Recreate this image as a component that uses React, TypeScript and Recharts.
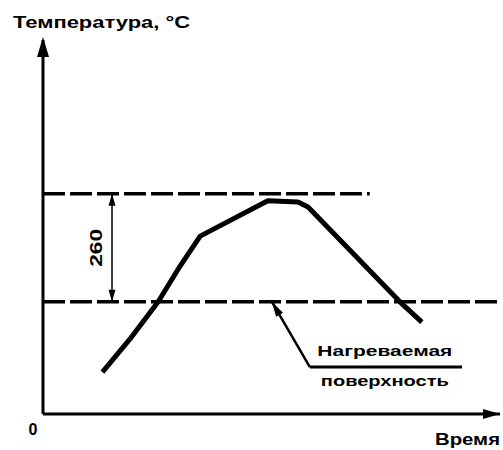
import React from 'react';
import {
  ComposedChart,
  Line,
  XAxis,
  YAxis,
  ReferenceLine,
  ReferenceDot,
} from 'recharts';

// Heating curve of the surface (time in arbitrary units, temperature in °C)
const time = [13, 19, 25.2, 30, 34.4, 49.2, 55.8, 58, 78.1, 82.9];
const temperature = [101, 180, 270, 356, 428, 513, 510, 498, 270, 221];

// Levels: heated surface and +260 above it
const surfaceTemp = 270;
const deltaTemp = 260;
const upperLimit = surfaceTemp + deltaTemp;

const timeDomain = [0, 100];
const tempDomain = [0, 900];
const originLabel = '0';

// dimension line, leader line and note positions (data units)
const dimX = 15.1;
const upperLineEnd = 71.5;
const leaderTip = { t: 50.1, temp: surfaceTemp };
const leaderBend = { t: 58.4, temp: 113 };
const leaderEnd = 91.7;
const noteX = 74.8;
const noteLines = ['Нагреваемая', 'поверхность'];
const noteY = [140, 67];

const data = time.map((t, i) => ({ t, temp: temperature[i] }));

const FONT = '"Liberation Sans", Arial, sans-serif';
const INK = '#000';

const textShape =
  (label: string, dx: number, dy: number, len?: number, size = 16, anchor = 'start', rotate = 0) =>
  (p: any) => (
    <text
      x={p.cx + dx}
      y={p.cy + dy}
      fontFamily={FONT}
      fontWeight="bold"
      fontSize={size}
      fill={INK}
      textAnchor={anchor}
      textLength={len}
      lengthAdjust={len ? 'spacingAndGlyphs' : undefined}
      transform={rotate ? `rotate(${rotate} ${p.cx + dx} ${p.cy + dy})` : undefined}
    >
      {label}
    </text>
  );

// arrowhead pointing along +x, rotated by angle (deg), tip at the point
const arrowShape =
  (angle: number, len: number, half: number, shift = 0) =>
  (p: any) => (
    <path
      d={`M0,0 L${-len},${-half} L${-len},${half} Z`}
      fill={INK}
      transform={`translate(${p.cx},${p.cy}) rotate(${angle}) translate(${shift},0)`}
    />
  );

export default function App() {
  return (
    <div style={{ position: 'absolute', left: 0, top: 0, width: 503, height: 450, background: '#fff' }}>
      <ComposedChart width={503} height={450} data={data} margin={{ top: 40, right: 3, bottom: 36, left: 43 }}>
        <XAxis type="number" dataKey="t" domain={timeDomain} hide />
        <YAxis type="number" domain={tempDomain} hide />

        {/* axes */}
        <ReferenceLine
          segment={[{ x: 0, y: 0 }, { x: timeDomain[1], y: 0 }]}
          stroke={INK}
          strokeWidth={3}
        />
        <ReferenceLine
          segment={[{ x: 0, y: 0 }, { x: 0, y: tempDomain[1] }]}
          stroke={INK}
          strokeWidth={3}
        />

        <ReferenceLine
          segment={[{ x: 0, y: upperLimit }, { x: upperLineEnd, y: upperLimit }]}
          stroke={INK}
          strokeWidth={3.5}
          strokeDasharray="22 5"
        />
        <ReferenceLine
          segment={[{ x: 0, y: surfaceTemp }, { x: timeDomain[1], y: surfaceTemp }]}
          stroke={INK}
          strokeWidth={3.5}
          strokeDasharray="22 5"
        />

        {/* dimension 260 */}
        <ReferenceLine segment={[{ x: dimX, y: surfaceTemp }, { x: dimX, y: upperLimit }]} stroke={INK} strokeWidth={1.5} />
        <ReferenceDot x={dimX} y={upperLimit} shape={arrowShape(-90, 12, 3.5)} />
        <ReferenceDot x={dimX} y={surfaceTemp} shape={arrowShape(90, 12, 3.5)} />
        <ReferenceDot x={dimX} y={(surfaceTemp + upperLimit) / 2} shape={textShape(String(deltaTemp), -10, 0, 38, 17, 'middle', -90)} />

        {/* leader to heated surface */}
        <ReferenceLine
          segment={[{ x: leaderTip.t, y: leaderTip.temp }, { x: leaderBend.t, y: leaderBend.temp }]}
          stroke={INK}
          strokeWidth={2.5}
        />
        <ReferenceLine
          segment={[{ x: leaderBend.t, y: leaderBend.temp }, { x: leaderEnd, y: leaderBend.temp }]}
          stroke={INK}
          strokeWidth={3}
        />
        <ReferenceDot x={leaderTip.t} y={leaderTip.temp} shape={arrowShape(-120.3, 15, 4)} />
        <ReferenceDot x={noteX} y={noteY[0]} shape={textShape(noteLines[0], 0, 0, 135, 15, 'middle')} />
        <ReferenceDot x={noteX} y={noteY[1]} shape={textShape(noteLines[1], 0, 0, 128, 15, 'middle')} />

        {/* axis arrows and titles */}
        <ReferenceDot x={0} y={tempDomain[1]} shape={arrowShape(-90, 20, 6, 3)} />
        <ReferenceDot x={timeDomain[1]} y={0} shape={arrowShape(0, 17, 5)} />
        <ReferenceDot x={0} y={0} shape={textShape(originLabel, -10, 21, undefined, 16, 'middle')} />
        <ReferenceDot x={0} y={tempDomain[1]} shape={textShape('Температура, °С', -30, -12, 177, 16)} />
        <ReferenceDot x={timeDomain[1]} y={0} shape={textShape('Время', -65, 31, 65, 16)} />

        <Line
          type="linear"
          dataKey="temp"
          stroke={INK}
          strokeWidth={5}
          strokeLinejoin="round"
          dot={false}
          activeDot={false}
          isAnimationActive={false}
        />
      </ComposedChart>
    </div>
  );
}
